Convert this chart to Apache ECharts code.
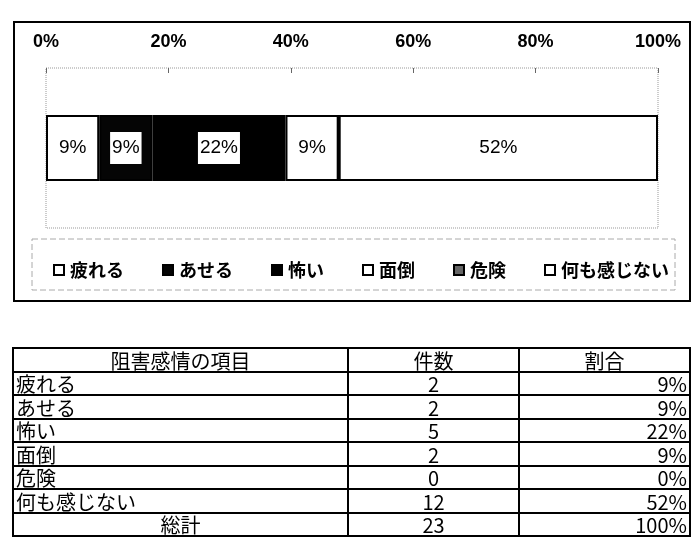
<!DOCTYPE html>
<html>
<head>
<meta charset="utf-8">
<script src="https://cdn.jsdelivr.net/npm/echarts@6/dist/echarts.min.js"></script>
<style>
  html, body { margin: 0; padding: 0; background: #fff; }
  #chart { position: absolute; left: 0; top: 0; width: 700px; height: 548px; }
  #tbl {
    position: absolute; left: 12px; top: 347px; width: 677px;
    border-collapse: collapse; table-layout: fixed;
    font-family: "Liberation Sans Narrow", "Noto Sans CJK JP", sans-serif;
    font-size: 20px; color: #000;
  }
  #tbl td { border: 2px solid #000; height: 21.5px; padding: 0 2px; line-height: 20px; white-space: nowrap; vertical-align: bottom; }
  #tbl td.c { text-align: center; }
  #tbl td.r { text-align: right; }
</style>
</head>
<body>
<div id="chart"></div>
<table id="tbl"></table>
<script>
// 阻害感情の項目
const items = ['疲れる', 'あせる', '怖い', '面倒', '危険', '何も感じない'];
const counts = [2, 2, 5, 2, 0, 12];
const shares = [9, 9, 22, 9, 0, 52];
const totalCount = 23;
const totalShare = 100;
const ticks = ['0%', '20%', '40%', '60%', '80%', '100%'];
const colors = ['#ffffff', '#050505', '#000000', '#ffffff', '#666666', '#ffffff'];

const chart = echarts.init(document.getElementById('chart'));

const series = items.map((name, i) => ({
  name: name,
  type: 'bar',
  stack: 'all',
  barWidth: 66,
  data: [counts[i] / totalCount * 100],
  itemStyle: { color: colors[i], borderColor: '#000', borderWidth: 2 },
  label: {
    show: counts[i] > 0,
    position: 'inside',
    formatter: shares[i] + '%',
    color: '#000',
    fontFamily: 'Liberation Sans Narrow, Liberation Sans, sans-serif',
    fontSize: 19,
    backgroundColor: '#fff',
    padding: [7, 2, 6, 2]
  }
}));

chart.setOption({
  animation: false,
  graphic: [
    { type: 'rect', shape: { x: 14, y: 22, width: 676, height: 279 },
      style: { fill: 'none', stroke: '#000', lineWidth: 2 }, z: 0 },
    { type: 'rect', shape: { x: 32, y: 239, width: 643, height: 51 },
      style: { fill: 'none', stroke: '#aaa', lineWidth: 1, lineDash: [6, 3] }, z: 0 }
  ],
  grid: {
    left: 46, right: 42, top: 68, bottom: 320,
    show: true, borderColor: '#999', borderWidth: 1, borderType: 'dotted'
  },
  xAxis: {
    type: 'value', position: 'top', min: 0, max: 100, interval: 20,
    axisLine: { show: false },
    axisTick: { show: true, inside: true, length: 5, lineStyle: { color: '#666' } },
    splitLine: { show: false },
    axisLabel: {
      margin: 17, color: '#000', fontSize: 18, fontWeight: 'bold',
      fontFamily: 'Liberation Sans Narrow, Liberation Sans, sans-serif',
      formatter: (v) => ticks[Math.round(v / 20)]
    }
  },
  yAxis: {
    type: 'category', data: [''], show: false
  },
  legend: {
    left: 48, top: 256,
    itemWidth: 10, itemHeight: 10, itemGap: 38,
    icon: 'rect',
    textStyle: {
      fontFamily: 'Noto Sans CJK JP', fontSize: 18, fontWeight: 'bold',
      color: '#000', padding: [0, 0, 0, 1]
    },
    data: items
  },
  series: series
});

// table below the chart
const tbl = document.getElementById('tbl');
let html = '<colgroup><col style="width:335px"><col style="width:171px"><col style="width:171px"></colgroup>';
html += '<tr><td class="c">阻害感情の項目</td><td class="c">件数</td><td class="c">割合</td></tr>';
items.forEach((name, i) => {
  html += '<tr><td>' + name + '</td><td class="c">' + counts[i] + '</td><td class="r">' + shares[i] + '%</td></tr>';
});
html += '<tr><td class="c">総計</td><td class="c">' + totalCount + '</td><td class="r">' + totalShare + '%</td></tr>';
tbl.innerHTML = html;
</script>
</body>
</html>
